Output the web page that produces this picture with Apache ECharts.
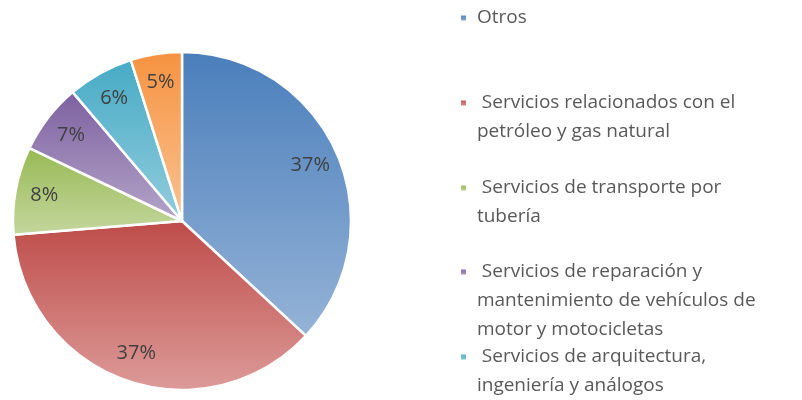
<!doctype html>
<html lang="es">
<head>
<meta charset="utf-8">
<script src="https://cdn.jsdelivr.net/npm/echarts@6/dist/echarts.min.js"></script>
<style>
  html, body { margin: 0; background: #fff; }
  #chart { width: 802px; height: 400px; }
</style>
</head>
<body>
<div id="chart"></div>
<script>
// datos (porcentaje de cada rubro)
var names = [
  'Otros',
  'Servicios relacionados con el petróleo y gas natural',
  'Servicios de transporte por tubería',
  'Servicios de reparación y mantenimiento de vehículos de motor y motocicletas',
  'Servicios de arquitectura, ingeniería y análogos',
  'Otros servicios'
];
var values = [36.9, 36.8, 8.4, 6.7, 6.3, 4.9];

// texto de la leyenda tal como aparece partido en líneas (el 6º no cabe)
var legendLines = [
  ['Otros'],
  [' Servicios relacionados con el', 'petróleo y gas natural'],
  [' Servicios de transporte por', 'tubería'],
  [' Servicios de reparación y', 'mantenimiento de vehículos de', 'motor y motocicletas'],
  [' Servicios de arquitectura,', 'ingeniería y análogos']
];

var topColors = ['#4a7ebb', '#be4b48', '#98b954', '#7d60a0', '#46aac5', '#f69240'];
var bottomColors = ['#95b3d7', '#dc9b99', '#c4d79e', '#b4a5c9', '#93cddd', '#fac392'];

var lh = 29;            // alto de línea de la leyenda
var rowY = [18, 103, 188, 272, 357]; // centro de la 1a línea de cada entrada

var chart = echarts.init(document.getElementById('chart'), null, { renderer: 'canvas' });

var pieData = names.map(function (n, i) {
  return {
    name: n,
    value: values[i],
    itemStyle: {
      color: new echarts.graphic.LinearGradient(0, 0, 0, 1, [
        { offset: 0, color: topColors[i] },
        { offset: 1, color: bottomColors[i] }
      ])
    }
  };
});

// una leyenda por entrada para respetar el espaciado del original
var legends = legendLines.map(function (lines, i) {
  var n = lines.length;
  var txt = new Array(n).join('\n') + lines.map(function (l) { return ' ' + l; }).join('\n');
  return {
    data: [names[i]],
    orient: 'vertical',
    left: 459,
    top: rowY[i] - (2 * n - 1) * lh / 2,
    padding: 0,
    icon: 'rect',
    itemWidth: 7,
    itemHeight: 7,
    selectedMode: false,
    formatter: function () { return txt; },
    textStyle: {
      fontFamily: 'Open Sans',
      fontSize: 19,
      color: '#595959',
      lineHeight: lh
    }
  };
});

var option = {
  animation: false,
  legend: legends,
  series: [
    {
      name: 'pie',
      type: 'pie',
      center: [182, 221],
      radius: [0, 169],
      startAngle: 90,
      clockwise: true,
      label: { show: false },
      labelLine: { show: false },
      itemStyle: { borderColor: '#fff', borderWidth: 2.5 },
      data: pieData
    },
    {
      // anillo invisible solo para colocar las etiquetas cerca del borde
      name: 'labels',
      type: 'pie',
      center: [182, 221],
      radius: [118, 156],
      startAngle: 90,
      silent: true,
      itemStyle: { color: 'transparent', borderWidth: 0 },
      label: {
        show: true,
        position: 'inside',
        fontFamily: 'Open Sans',
        fontSize: 20,
        color: '#404040',
        formatter: function (p) { return Math.round(p.percent) + '%'; }
      },
      labelLine: { show: false },
      data: names.map(function (n, i) { return { name: n, value: values[i] }; })
    }
  ]
};

chart.setOption(option);
</script>
</body>
</html>
